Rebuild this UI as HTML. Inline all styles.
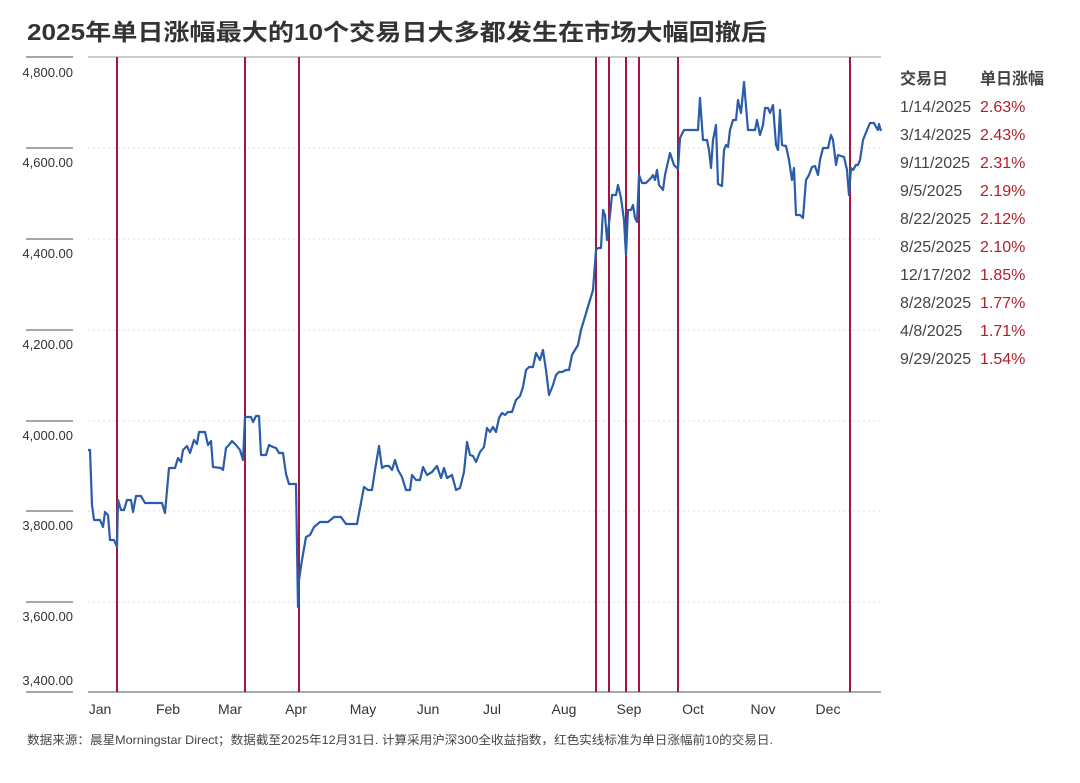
<!DOCTYPE html>
<html><head><meta charset="utf-8"><style>
body{margin:0;background:#fff;font-family:"Liberation Sans","Noto Sans CJK SC",sans-serif;}
</style></head><body>
<svg width="1080" height="778" xmlns="http://www.w3.org/2000/svg" font-family="Liberation Sans, Noto Sans CJK SC, sans-serif">
<text x="27" y="40" font-size="23" font-weight="bold" fill="#333" textLength="740" lengthAdjust="spacingAndGlyphs">2025年单日涨幅最大的10个交易日大多都发生在市场大幅回撤后</text>
<line x1="88" y1="57" x2="881" y2="57" stroke="#999" stroke-width="1"/>
<g stroke="#ddd" stroke-dasharray="2,3">
<line x1="88" y1="148" x2="881" y2="148"/><line x1="88" y1="239" x2="881" y2="239"/>
<line x1="88" y1="330" x2="881" y2="330"/><line x1="88" y1="421" x2="881" y2="421"/>
<line x1="88" y1="511" x2="881" y2="511"/><line x1="88" y1="602" x2="881" y2="602"/>
</g>
<g stroke="#888" stroke-width="1.5">
<line x1="26" y1="57" x2="73" y2="57"/><line x1="26" y1="148" x2="73" y2="148"/>
<line x1="26" y1="239" x2="73" y2="239"/><line x1="26" y1="330" x2="73" y2="330"/>
<line x1="26" y1="421" x2="73" y2="421"/><line x1="26" y1="511" x2="73" y2="511"/>
<line x1="26" y1="602" x2="73" y2="602"/><line x1="26" y1="692" x2="73" y2="692"/>
</g>
<g font-size="13" fill="#333" text-anchor="end">
<text x="73" y="77">4,800.00</text><text x="73" y="167">4,600.00</text>
<text x="73" y="258">4,400.00</text><text x="73" y="349">4,200.00</text>
<text x="73" y="440">4,000.00</text><text x="73" y="530">3,800.00</text>
<text x="73" y="621">3,600.00</text><text x="73" y="685">3,400.00</text>
</g>
<line x1="88" y1="692" x2="881" y2="692" stroke="#555" stroke-width="1"/>
<g stroke="#a8123e" stroke-width="2">
<line x1="117" y1="57" x2="117" y2="692"/><line x1="245" y1="57" x2="245" y2="692"/>
<line x1="299" y1="57" x2="299" y2="692"/><line x1="596" y1="57" x2="596" y2="692"/>
<line x1="609" y1="57" x2="609" y2="692"/><line x1="626" y1="57" x2="626" y2="692"/>
<line x1="639" y1="57" x2="639" y2="692"/><line x1="678" y1="57" x2="678" y2="692"/>
<line x1="850" y1="57" x2="850" y2="692"/>
</g>
<polyline fill="none" stroke="#2a5caa" stroke-width="2.2" stroke-linejoin="round" points="88,450 90,450 92,505 94,520 100,520 103,527 105,512 108,515 110,540 114,540 117,547 118,500 121,510 124,510 127,500 131,500 133,512 136,496 141,496 145,503 158,503 162,503 165,513 169,468 175,468 178,458 181,462 183,450 187,446 190,453 194,440 197,444 199,432 205,432 208,445 211,441 213,467 221,468 223,470 226,448 229,445 232,441 236,445 240,450 243,460 245,417 251,417 253,422 256,416 259,416 261,455 266,455 269,445 273,447 276,448 279,453 283,453 286,474 289,484 296,484 298,607 299,580 302,560 306,537 310,535 314,527 320,522 328,522 334,517 341,517 346,524 357,524 360,508 364,487 368,490 372,490 375,470 379,446 382,468 385,466 389,466 392,470 395,460 398,470 402,477 406,490 410,490 412,475 416,480 420,480 423,467 427,475 432,472 437,466 441,478 444,468 447,478 452,475 456,490 460,488 464,472 467,442 470,455 473,456 476,462 480,452 484,447 487,428 490,432 493,427 496,432 499,418 502,413 505,415 508,412 512,412 516,400 520,396 523,387 526,370 529,367 533,367 536,353 540,360 543,350 546,370 549,395 553,385 556,375 559,372 562,372 566,370 569,370 572,355 575,350 578,345 581,330 584,320 587,310 590,300 593,290 596,250 598,248 601,248 603,210 605,215 607,240 610,215 612,195 616,195 618,185 621,198 624,220 626,255 628,210 631,210 633,205 635,218 637,222 639,175 642,183 646,183 649,180 651,178 653,175 655,180 657,170 659,185 663,190 665,175 670,153 674,165 678,169 680,138 684,130 698,130 700,98 703,140 707,140 709,150 711,168 713,140 716,125 718,184 722,186 724,150 726,145 728,147 730,130 733,120 736,120 738,100 741,113 744,82 748,130 755,130 757,120 760,135 763,125 765,108 768,108 770,113 773,105 776,145 778,150 780,110 782,145 786,146 789,160 792,180 794,168 796,215 800,215 803,218 806,180 809,175 812,167 815,166 818,175 820,160 823,148 828,148 831,135 833,140 836,165 838,155 844,157 847,170 849,195 851,168 853,170 856,165 858,165 860,160 863,140 867,130 870,123 874,123 876,127 878,130 879,124 881,131"/>
<g font-size="14" fill="#333" text-anchor="middle">
<text x="100" y="714">Jan</text><text x="168" y="714">Feb</text><text x="230" y="714">Mar</text>
<text x="296" y="714">Apr</text><text x="363" y="714">May</text><text x="428" y="714">Jun</text>
<text x="492" y="714">Jul</text><text x="564" y="714">Aug</text><text x="629" y="714">Sep</text>
<text x="693" y="714">Oct</text><text x="763" y="714">Nov</text><text x="828" y="714">Dec</text>
</g>
<g font-size="16">
<text x="900" y="84" font-weight="bold" fill="#444">交易日</text>
<text x="980" y="84" font-weight="bold" fill="#444">单日涨幅</text>
<g fill="#444">
<text x="900" y="112">1/14/2025</text><text x="900" y="140">3/14/2025</text>
<text x="900" y="168">9/11/2025</text><text x="900" y="196">9/5/2025</text>
<text x="900" y="224">8/22/2025</text><text x="900" y="252">8/25/2025</text>
<text x="900" y="280">12/17/202</text><text x="900" y="308">8/28/2025</text>
<text x="900" y="336">4/8/2025</text><text x="900" y="364">9/29/2025</text>
</g>
<g fill="#b0202a">
<text x="980" y="112">2.63%</text><text x="980" y="140">2.43%</text>
<text x="980" y="168">2.31%</text><text x="980" y="196">2.19%</text>
<text x="980" y="224">2.12%</text><text x="980" y="252">2.10%</text>
<text x="980" y="280">1.85%</text><text x="980" y="308">1.77%</text>
<text x="980" y="336">1.71%</text><text x="980" y="364">1.54%</text>
</g>
</g>
<text x="27" y="744" font-size="12" fill="#444" textLength="746" lengthAdjust="spacingAndGlyphs">数据来源：晨星Morningstar Direct；数据截至2025年12月31日. 计算采用沪深300全收益指数，红色实线标准为单日涨幅前10的交易日.</text>
</svg>
</body></html>
